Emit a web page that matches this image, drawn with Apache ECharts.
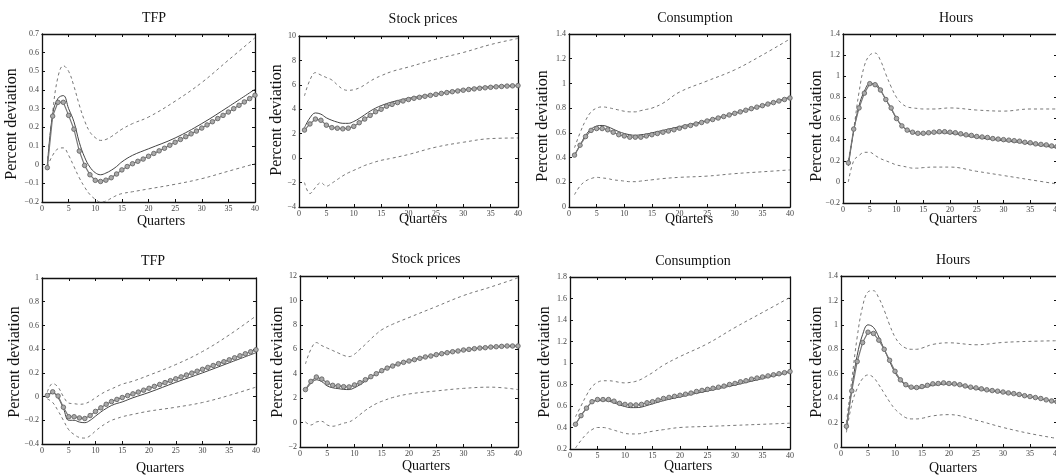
<!DOCTYPE html>
<html><head><meta charset="utf-8">
<script src="https://cdn.jsdelivr.net/npm/echarts@6/dist/echarts.min.js"></script>
<style>html,body{margin:0;padding:0;background:#fff}#c{width:1056px;height:476px}</style>
</head><body><div id="c"></div>
<script>
// ---------- DATA ----------
const quarters = [1,2,3,4,5,6,7,8,9,10,11,12,13,14,15,16,17,18,19,20,21,22,23,24,25,26,27,28,29,30,31,32,33,34,35,36,37,38,39,40];
const qSparse = [1,2,3,4,5,6,7,8,9,10,11,12,13,14,15,17,20,25,30,35,40];

const titles = ["TFP","Stock prices","Consumption","Hours","TFP","Stock prices","Consumption","Hours"];
const xLabel = "Quarters";
const yLabel = "Percent deviation";
const yMin  = [-0.2, -4, 0,   -0.2, -0.4, -2, 0.2, 0];
const yMax  = [0.7,  10, 1.4,  1.4,  1,   12, 1.8, 1.4];
const yStep = [0.1,  2,  0.2,  0.2,  0.2,  2, 0.2, 0.2];

// Top row
const tfpA_solid = [-0.01,0.27,0.355,0.37,0.3,0.23,0.12,0.04,-0.013,-0.043,-0.054,-0.045,-0.03,-0.01,0.015,0.05,0.085,0.143,0.22,0.31,0.404];
const tfpA_hi    = [0.0,0.28,0.47,0.53,0.5,0.42,0.32,0.235,0.175,0.145,0.13,0.135,0.15,0.17,0.19,0.22,0.255,0.34,0.44,0.56,0.68];
const tfpA_lo    = [-0.01,0.05,0.085,0.09,0.05,-0.01,-0.07,-0.12,-0.16,-0.185,-0.2,-0.195,-0.18,-0.165,-0.155,-0.145,-0.13,-0.105,-0.075,-0.035,0.005];
const tfpA_circ  = [-0.016,0.26,0.334,0.334,0.264,0.19,0.073,-0.004,-0.054,-0.084,-0.09,-0.083,-0.07,-0.05,-0.028,-0.01,0.005,0.018,0.03,0.045,0.06,0.074,0.088,0.104,0.12,0.135,0.15,0.165,0.18,0.196,0.213,0.23,0.247,0.264,0.282,0.3,0.318,0.336,0.354,0.372];

const stkA_solid = [2.5,3.3,3.7,3.6,3.3,3.1,2.95,2.85,2.85,3.0,3.25,3.55,3.85,4.1,4.3,4.6,4.9,5.25,5.6,5.85,5.95];
const stkA_hi    = [5.1,6.4,7.0,6.8,6.6,6.4,6.0,5.65,5.55,5.6,5.75,6.0,6.3,6.55,6.75,7.1,7.46,8.1,8.65,9.3,9.8];
const stkA_lo    = [-2.0,-2.9,-2.4,-2.0,-2.3,-2.05,-1.75,-1.45,-1.2,-1.0,-0.8,-0.6,-0.45,-0.3,-0.18,0.0,0.3,0.9,1.3,1.6,1.65];
const stkA_circ  = [2.3,2.8,3.2,3.1,2.7,2.5,2.45,2.4,2.45,2.6,2.9,3.2,3.5,3.8,4.0,4.25,4.4,4.55,4.68,4.8,4.9,4.98,5.06,5.14,5.22,5.3,5.37,5.44,5.5,5.56,5.62,5.67,5.72,5.76,5.8,5.84,5.87,5.9,5.92,5.94];

const conA_solid = [0.42,0.5,0.58,0.63,0.655,0.66,0.65,0.63,0.61,0.595,0.585,0.58,0.585,0.59,0.6,0.62,0.65,0.7,0.76,0.82,0.89];
const conA_hi    = [0.48,0.6,0.7,0.77,0.8,0.81,0.805,0.795,0.785,0.775,0.77,0.77,0.78,0.79,0.8,0.84,0.93,1.02,1.11,1.23,1.36];
const conA_lo    = [0.1,0.17,0.21,0.23,0.24,0.235,0.23,0.22,0.215,0.21,0.205,0.205,0.21,0.215,0.22,0.23,0.24,0.25,0.27,0.285,0.3];
const conA_circ  = [0.42,0.5,0.57,0.62,0.635,0.635,0.625,0.605,0.585,0.575,0.565,0.565,0.565,0.575,0.585,0.595,0.605,0.615,0.625,0.638,0.65,0.66,0.672,0.684,0.696,0.708,0.72,0.732,0.745,0.758,0.77,0.783,0.796,0.808,0.82,0.833,0.845,0.858,0.87,0.882];

const hrsA_solid = [0.15,0.48,0.72,0.86,0.93,0.93,0.87,0.78,0.69,0.6,0.53,0.49,0.465,0.455,0.455,0.465,0.46,0.42,0.39,0.36,0.32];
const hrsA_hi    = [0.2,0.5,0.85,1.1,1.2,1.22,1.15,1.02,0.9,0.8,0.74,0.71,0.7,0.695,0.69,0.69,0.7,0.68,0.67,0.69,0.69];
const hrsA_lo    = [0.0,0.2,0.25,0.28,0.28,0.25,0.22,0.2,0.18,0.16,0.15,0.14,0.13,0.13,0.135,0.14,0.14,0.1,0.06,0.02,-0.02];
const hrsA_circ  = [0.18,0.5,0.7,0.84,0.93,0.92,0.87,0.78,0.7,0.6,0.53,0.49,0.47,0.46,0.46,0.465,0.47,0.475,0.475,0.47,0.465,0.455,0.445,0.44,0.43,0.425,0.42,0.41,0.405,0.4,0.395,0.39,0.385,0.375,0.37,0.36,0.355,0.35,0.34,0.335];

// Bottom row
const tfpB_solid = [0.01,0.03,-0.01,-0.1,-0.2,-0.2,-0.215,-0.22,-0.2,-0.165,-0.13,-0.1,-0.075,-0.058,-0.045,-0.01,0.035,0.12,0.2,0.285,0.37];
const tfpB_hi    = [0.04,0.11,0.08,0.0,-0.055,-0.06,-0.065,-0.06,-0.04,-0.01,0.02,0.045,0.065,0.085,0.105,0.13,0.18,0.27,0.38,0.52,0.68];
const tfpB_lo    = [-0.02,-0.05,-0.12,-0.2,-0.28,-0.32,-0.345,-0.35,-0.33,-0.29,-0.255,-0.225,-0.2,-0.185,-0.17,-0.15,-0.123,-0.09,-0.05,0.01,0.08];
const tfpB_circ  = [0.01,0.04,0.005,-0.09,-0.17,-0.17,-0.18,-0.185,-0.16,-0.125,-0.095,-0.065,-0.042,-0.024,-0.008,0.008,0.023,0.038,0.054,0.07,0.086,0.102,0.118,0.134,0.15,0.166,0.182,0.198,0.214,0.23,0.246,0.262,0.278,0.294,0.31,0.327,0.344,0.361,0.378,0.395];

const stkB_solid = [2.65,3.2,3.5,3.35,3.0,2.85,2.78,2.72,2.7,2.85,3.1,3.4,3.7,4.0,4.25,4.65,5.05,5.55,5.93,6.17,6.27];
const stkB_hi    = [4.8,6.0,6.55,6.3,6.1,5.9,5.7,5.5,5.4,5.6,6.0,6.4,6.85,7.25,7.6,8.05,8.6,9.5,10.4,11.1,11.85];
const stkB_lo    = [0.05,-0.2,0.05,0.1,-0.2,-0.3,-0.2,-0.05,0.05,0.3,0.65,1.0,1.3,1.55,1.74,2.05,2.34,2.59,2.8,2.9,2.7];
const stkB_circ  = [2.7,3.37,3.73,3.56,3.24,3.05,3.0,2.94,2.92,3.08,3.27,3.51,3.76,4.0,4.25,4.46,4.63,4.8,4.93,5.04,5.15,5.26,5.37,5.45,5.56,5.64,5.72,5.8,5.86,5.94,5.99,6.05,6.1,6.13,6.18,6.21,6.24,6.27,6.27,6.27];

const conB_solid = [0.43,0.51,0.58,0.635,0.65,0.65,0.645,0.63,0.61,0.595,0.585,0.585,0.59,0.605,0.62,0.65,0.685,0.74,0.795,0.855,0.915];
const conB_hi    = [0.5,0.6,0.7,0.78,0.82,0.835,0.835,0.83,0.82,0.815,0.82,0.83,0.85,0.88,0.91,0.98,1.06,1.18,1.33,1.47,1.61];
const conB_lo    = [0.21,0.28,0.34,0.38,0.4,0.4,0.39,0.375,0.36,0.345,0.34,0.34,0.345,0.355,0.365,0.38,0.4,0.41,0.42,0.43,0.44];
const conB_circ  = [0.43,0.51,0.58,0.64,0.66,0.66,0.66,0.645,0.625,0.615,0.61,0.61,0.615,0.63,0.64,0.655,0.67,0.68,0.69,0.7,0.71,0.72,0.735,0.745,0.755,0.765,0.775,0.785,0.8,0.81,0.825,0.835,0.85,0.86,0.87,0.88,0.89,0.9,0.91,0.92];

const hrsB_solid = [0.14,0.48,0.75,0.92,1.0,0.98,0.9,0.8,0.7,0.61,0.545,0.505,0.485,0.48,0.485,0.505,0.515,0.475,0.445,0.41,0.365];
const hrsB_hi    = [0.2,0.55,0.9,1.15,1.27,1.28,1.22,1.12,1.0,0.9,0.84,0.81,0.8,0.8,0.81,0.84,0.853,0.837,0.856,0.865,0.87];
const hrsB_lo    = [0.12,0.35,0.48,0.56,0.59,0.57,0.51,0.44,0.37,0.31,0.27,0.24,0.23,0.23,0.235,0.255,0.265,0.22,0.16,0.11,0.07];
const hrsB_circ  = [0.17,0.46,0.7,0.855,0.94,0.93,0.875,0.8,0.71,0.62,0.55,0.51,0.49,0.487,0.495,0.505,0.517,0.52,0.525,0.52,0.517,0.51,0.5,0.49,0.484,0.476,0.468,0.462,0.457,0.45,0.443,0.437,0.43,0.42,0.413,0.405,0.397,0.386,0.377,0.37];

// ---------- LAYOUT ----------
const panelData = [
  [tfpA_solid, tfpA_hi, tfpA_lo, tfpA_circ],
  [stkA_solid, stkA_hi, stkA_lo, stkA_circ],
  [conA_solid, conA_hi, conA_lo, conA_circ],
  [hrsA_solid, hrsA_hi, hrsA_lo, hrsA_circ],
  [tfpB_solid, tfpB_hi, tfpB_lo, tfpB_circ],
  [stkB_solid, stkB_hi, stkB_lo, stkB_circ],
  [conB_solid, conB_hi, conB_lo, conB_circ],
  [hrsB_solid, hrsB_hi, hrsB_lo, hrsB_circ]
];
const grids = [
  {left:42,  top:34,  width:213, height:168},
  {left:299, top:36,  width:219, height:171},
  {left:569, top:34,  width:221, height:173},
  {left:843, top:34,  width:214, height:169},
  {left:42,  top:278, width:214, height:166},
  {left:300, top:276, width:218, height:171},
  {left:570, top:277, width:220, height:172},
  {left:841, top:276, width:216, height:171}
];
const titlePos = [[154,18],[423,19],[695,18],[956,18],[153,261],[426,259],[693,261],[953,260]];
const xlabPos  = [[161,221],[423,219],[689,219],[953,219],[160,468],[426,466],[688,466],[953,468]];
const ylabPos  = [[12,124],[277,120],[543,126],[817,126],[15,362],[278,362],[545,362],[817,362]];

const FONT = '"Liberation Serif","DejaVu Serif",serif';
const fmt = v => { const r = Math.round(v*100)/100; return String(r).replace('-', '\u2212'); };

const option = {
  backgroundColor:'#fff',
  animation:false,
  grid:[], xAxis:[], yAxis:[], series:[], graphic:[]
};

grids.forEach((g,i)=>{
  option.grid.push(Object.assign({containLabel:false, outerBoundsMode:'none'}, g));
  const axLine = {show:true, onZero:false, lineStyle:{color:'#111', width:1.3}};
  const tick = {show:true, inside:true, length:3, lineStyle:{color:'#111', width:1}};
  const lab = {show:true, fontFamily:FONT, fontSize:8, color:'#444', margin:3, formatter:fmt, showMinLabel:true, showMaxLabel:true};
  const xb = {type:'value', gridIndex:i, min:0, max:40, interval:5, axisLine:axLine, axisTick:tick, splitLine:{show:false}};
  option.xAxis.push(Object.assign({}, xb, {position:'bottom', axisLabel:lab}));
  option.xAxis.push(Object.assign({}, xb, {position:'top', axisLabel:{show:false}}));
  const yb = {type:'value', gridIndex:i, min:yMin[i], max:yMax[i], interval:yStep[i], axisLine:axLine, axisTick:tick, splitLine:{show:false}};
  option.yAxis.push(Object.assign({}, yb, {position:'left', axisLabel:lab}));
  option.yAxis.push(Object.assign({}, yb, {position:'right', axisLabel:{show:false}}));

  const [solid, hi, lo, circ] = panelData[i];
  const xi = 2*i, yi = 2*i;
  const pair = (xs, ys) => xs.map((q,j)=>[q, ys[j]]);
  [hi, lo].forEach(arr=>{
    option.series.push({type:'line', xAxisIndex:xi, yAxisIndex:yi, data:pair(qSparse, arr),
      smooth:0.4, showSymbol:false, symbol:'none', lineStyle:{color:'#777', width:1, type:[3,3]}, z:2});
  });
  option.series.push({type:'line', xAxisIndex:xi, yAxisIndex:yi, data:pair(qSparse, solid),
    smooth:0.4, showSymbol:false, symbol:'none', lineStyle:{color:'#444', width:1}, z:3});
  option.series.push({type:'line', xAxisIndex:xi, yAxisIndex:yi, data:pair(quarters, circ),
    smooth:false, symbol:'circle', symbolSize:4.5, showSymbol:true,
    lineStyle:{color:'#777', width:1.2},
    itemStyle:{color:'#aaa', borderColor:'#666', borderWidth:0.9}, z:4});

  option.graphic.push({type:'text', x:titlePos[i][0], y:titlePos[i][1],
    style:{text:titles[i], font:'14px '+FONT, fill:'#111', textAlign:'center', textVerticalAlign:'middle'}});
  option.graphic.push({type:'text', x:xlabPos[i][0], y:xlabPos[i][1],
    style:{text:xLabel, font:'14px '+FONT, fill:'#111', textAlign:'center', textVerticalAlign:'middle'}});
  option.graphic.push({type:'text', x:ylabPos[i][0], y:ylabPos[i][1], rotation:Math.PI/2,
    style:{text:yLabel, font:'16px '+FONT, fill:'#111', textAlign:'center', textVerticalAlign:'middle'}});
});

const chart = echarts.init(document.getElementById('c'), null, {renderer:'canvas'});
chart.setOption(option);
</script>
</body></html>
